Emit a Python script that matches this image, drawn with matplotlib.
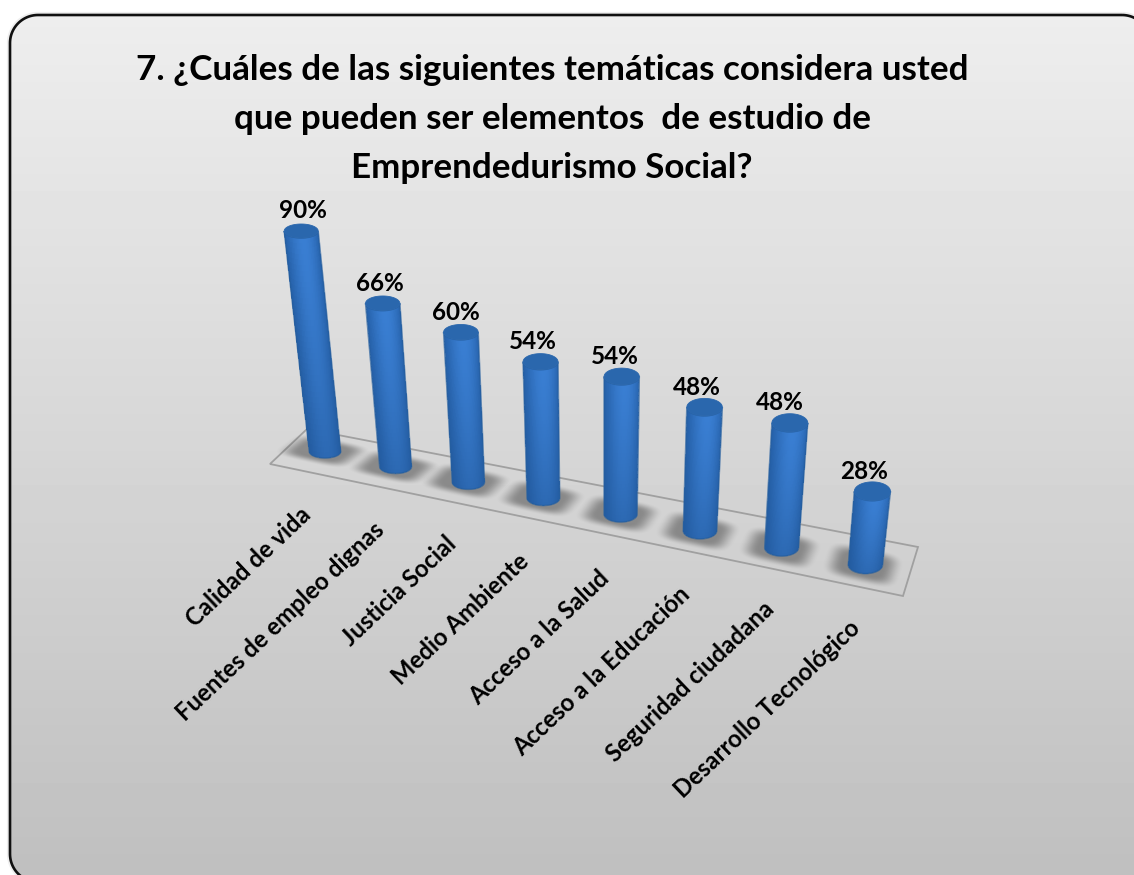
import numpy as np
import matplotlib
matplotlib.use("Agg")
import matplotlib.pyplot as plt
from matplotlib.patches import Polygon

# ---- data ----
categories = ["Calidad de vida", "Fuentes de empleo dignas", "Justicia Social",
              "Medio Ambiente", "Acceso a la Salud", "Acceso a la Educación",
              "Seguridad ciudadana", "Desarrollo Tecnológico"]
values = [90, 66, 60, 54, 54, 48, 48, 28]
value_labels = ["90%", "66%", "60%", "54%", "54%", "48%", "48%", "28%"]
title = "7. ¿Cuáles de las siguientes temáticas considera usted\nque pueden ser elementos  de estudio de\nEmprendedurismo Social?"

# ---- small layout nudges (pixels) ----
label_dx = [2, -3, -5, -8, -7, -8, -10, -8]
cat_dx = [-18, -15, -16, -18, -15, -14, -11, -9]
cat_dy = [60, 60, 58, 60, 60, 60, 58, 60]

W, H = 1134, 875
plt.rcParams["font.family"] = ["Lato", "DejaVu Sans"]
fig = plt.figure(figsize=(W / 100, H / 100), dpi=100, facecolor="white")
ax = fig.add_axes([0, 0, 1, 1])
ax.set_xlim(0, W)
ax.set_ylim(H, 0)
ax.axis("off")


def project(i, v):
    """Perspective floor/height projection of (category position, value)."""
    bx = 325 + 69.5 * i + 1.1 * i * i
    by = 451.5 + 15.0 * i + 0.17 * i * i
    h = v * (2.45 + 0.025 * i)
    lean = -0.108 + 0.029 * i
    return bx + lean * h, by - h


def rounded_rect(x0, y0, x1, y1, r, n=24):
    """Sampled outline, so that clipping at the canvas edge keeps its shape."""
    corners = [(x1 - r, y0 + r, -np.pi / 2), (x1 - r, y1 - r, 0),
               (x0 + r, y1 - r, np.pi / 2), (x0 + r, y0 + r, np.pi)]
    pts = []
    for cx, cy, a0 in corners:
        a = np.linspace(a0, a0 + np.pi / 2, n)
        pts.append(np.c_[cx + r * np.cos(a), cy + r * np.sin(a)])
    return np.vstack(pts)


# panel with vertical gradient
outline_pts = rounded_rect(10, 15, 1150, 882, 28)
ax.add_patch(Polygon(outline_pts, closed=True, fc="none", ec="#808080", lw=4.5, alpha=0.13, zorder=0.5))
grad = np.linspace(0.935, 0.75, 256)[:, None]
im = ax.imshow(grad, extent=(0, W, H, 0), cmap="gray", vmin=0, vmax=1, aspect="auto", zorder=1)
bgclip = Polygon(outline_pts, closed=True, fc="none", ec="none", transform=ax.transData)
ax.add_patch(bgclip)
im.set_clip_path(bgclip)
ax.add_patch(Polygon(outline_pts, closed=True, fc="none", ec="#101010", lw=1.9, zorder=3))

# floor
floor_pts = [(270, 464), (307, 429), (918, 547), (903, 596)]
ax.add_patch(Polygon(floor_pts, closed=True, fc="none", ec="#a0a0a0", lw=1.3, zorder=2))


def shadow(i, cx, cy):
    hu, hv = 33, 13 + 0.5 * i
    sk = 1.05 - 0.11 * i
    xs = np.arange(cx - 60, cx + 60)
    ys = np.arange(cy - 40, cy + 40)
    X, Y = np.meshgrid(xs + 0.5, ys + 0.5)
    dx = X - cx + 2
    vp = Y - cy - 0.22 * dx
    u = (dx + sk * vp) / hu
    v = vp / hv
    d = (np.abs(u) ** 4 + np.abs(v) ** 4) ** 0.25
    a = np.clip((1.18 - d) / 0.6, 0, 1)
    a = a * a * (3 - 2 * a) * 0.5
    rgba = np.zeros(X.shape + (4,))
    rgba[..., :3] = 0.25
    rgba[..., 3] = a
    ax.imshow(rgba, extent=(xs[0], xs[-1] + 1, ys[-1] + 1, ys[0]), aspect="auto",
              zorder=4, interpolation="bilinear")


def cylinder(i, v, z):
    bx, by = project(i, 0)
    tx, ty = project(i, v)
    hw_b, hw_t = 15.7 + 0.2 * i, 17.0 + 0.15 * i
    eh_t = 7.0 + 0.35 * i
    eh_b = 0.93 * eh_t
    theta = np.linspace(np.pi, 0, 61)          # left to right over the front
    s = np.linspace(0, 1, 41)
    T, S = np.meshgrid(theta, s)
    cx = tx + (bx - tx) * S
    cy = ty + (by - ty) * S
    hw = hw_t + (hw_b - hw_t) * S
    eh = eh_t + (eh_b - eh_t) * S
    X = cx + hw * np.cos(T)
    Y = cy + eh * np.sin(T)
    tc = 0.5 * (T[:-1, :-1] + T[1:, 1:])
    sc = 0.5 * (S[:-1, :-1] + S[1:, 1:])
    light = np.exp(-((tc - np.pi * 0.45) / 0.95) ** 2)
    dark = np.array([0.14, 0.37, 0.65])
    bright = np.array([0.225, 0.495, 0.825])
    f = light[..., None] * (1 - 0.5 * sc[..., None] ** 1.5)
    rgb = (dark + (bright - dark) * f) * (1 - 0.05 * sc[..., None])
    outline = np.vstack([np.c_[X[0, ::-1], Y[0, ::-1]], np.c_[X[-1], Y[-1]]])
    edge = Polygon(outline, closed=True, fc="none", ec="#265f9f", lw=1.1, alpha=0.7, zorder=z + 0.1)
    ax.add_patch(edge)
    mesh = ax.pcolormesh(X, Y, rgb, shading="flat", zorder=z, antialiased=False, edgecolors="none")
    mesh.set_clip_path(edge)
    t = np.linspace(0, 2 * np.pi, 80)
    ax.add_patch(Polygon(np.c_[tx + hw_t * np.cos(t), ty + eh_t * np.sin(t)], closed=True,
                         fc="#2a67ad", ec="#2a67ad", lw=0.6, zorder=z + 0.2))


for i, v in enumerate(values):
    bx, by = project(i, 0)
    shadow(i, bx, by)
for i, v in enumerate(values):
    cylinder(i, v, 5 + i)
    tx, ty = project(i, v)
    ax.text(tx + label_dx[i], ty - 20, value_labels[i], ha="center", va="center",
            fontsize=17.5, fontweight="bold", color="black", zorder=20)
    bx, by = project(i, 0)
    ax.text(bx + cat_dx[i], by + cat_dy[i], categories[i], rotation=43.5, rotation_mode="anchor",
            ha="right", va="center", fontsize=17.2, fontweight="bold", color="black", zorder=20)

ax.text(552, 119, title, ha="center", va="center", fontsize=25.2, fontweight="bold",
        color="black", linespacing=1.645, zorder=20)

ax.set_xlim(0, W)
ax.set_ylim(H, 0)
fig.savefig("out.png", dpi=100, facecolor="white")
